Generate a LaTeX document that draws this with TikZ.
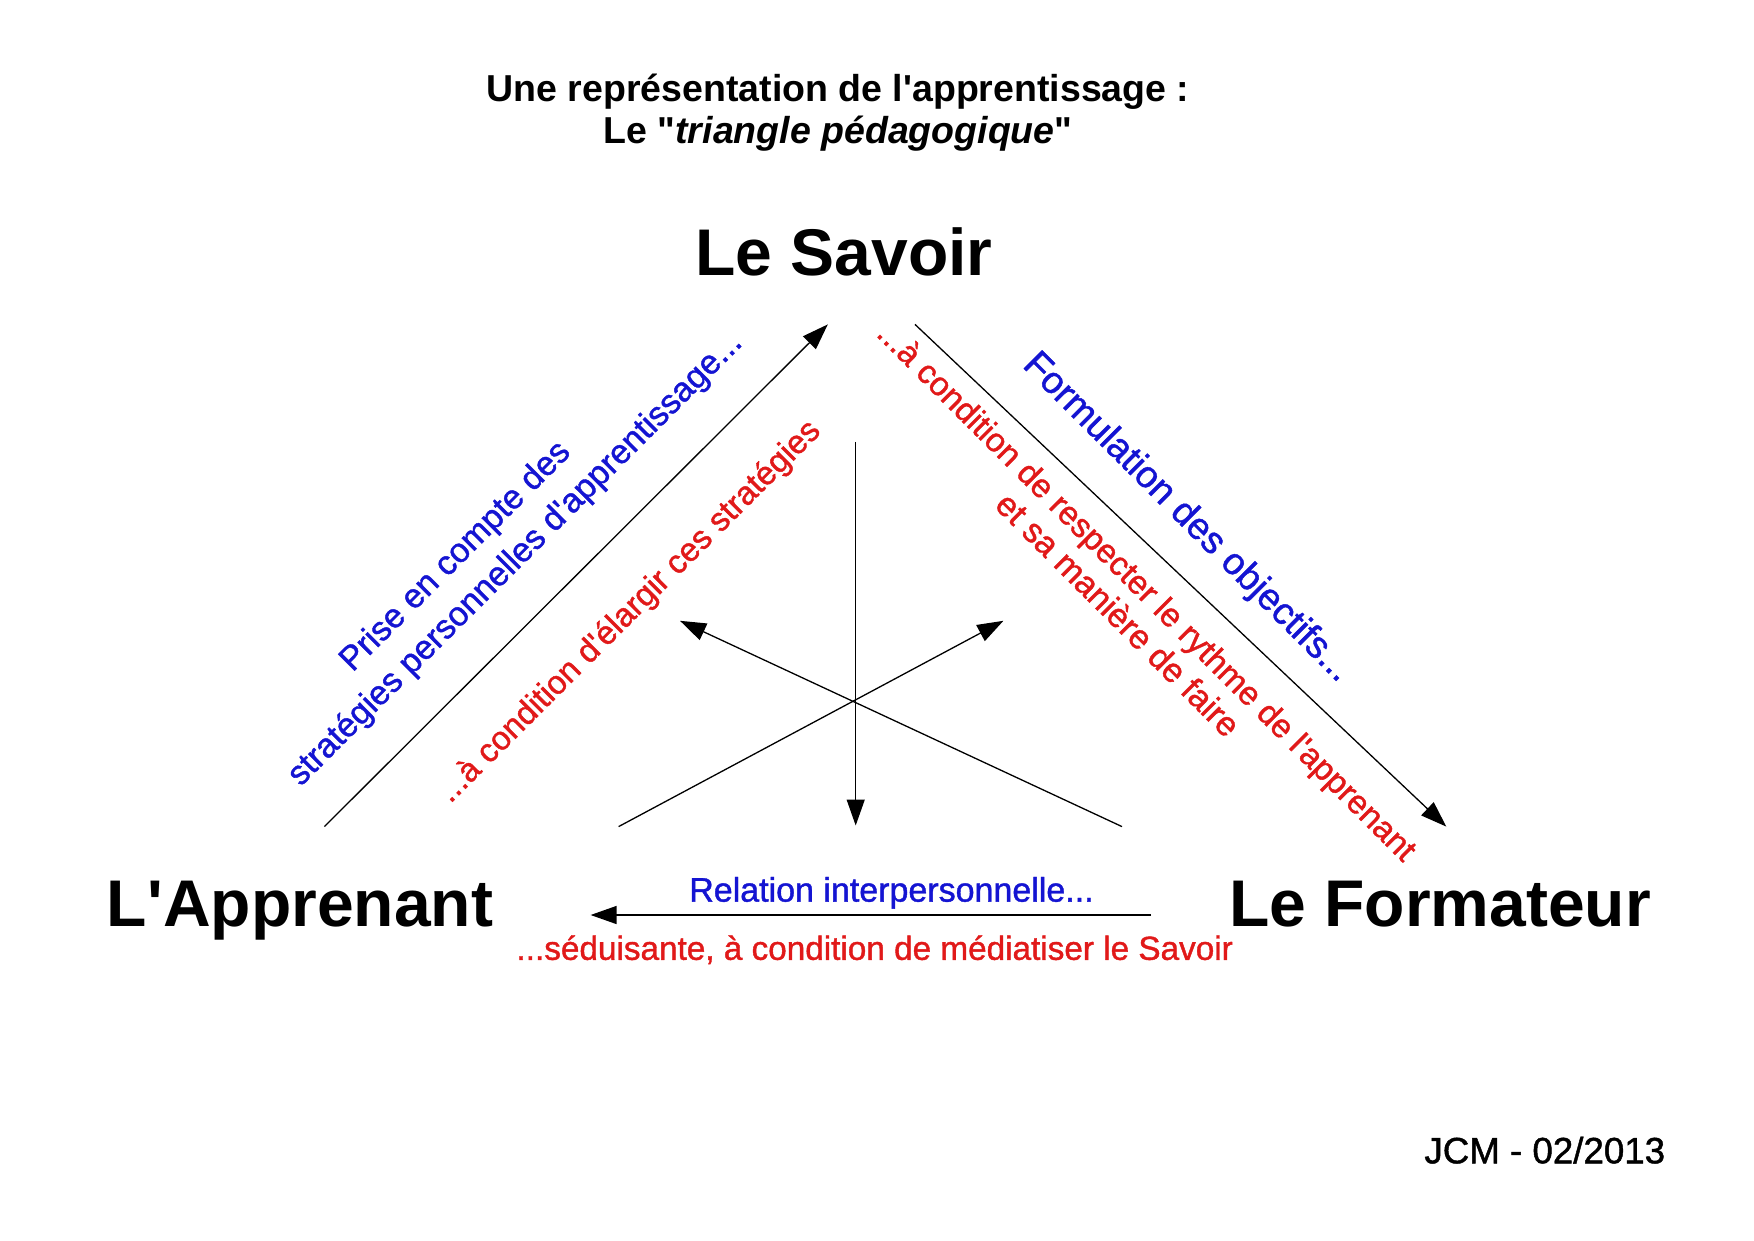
\documentclass[tikz,border=0pt]{standalone}
\usepackage{fontspec}
\newfontfamily\arialf{Liberation Sans}
\newfontfamily\arialm{Liberation Sans}[FakeBold=1.2]
\usetikzlibrary{arrows.meta}
\definecolor{bleu}{RGB}{20,20,210}
\definecolor{rouge}{RGB}{225,25,25}
\begin{document}
\begin{tikzpicture}[x=1pt,y=-1pt,
  vertex/.style={font=\arialf\bfseries\fontsize{66}{72}\selectfont, inner sep=0pt, anchor=base},
  titre/.style={font=\arialf\bfseries\fontsize{37.5}{42}\selectfont, inner sep=0pt, anchor=base},
  note/.style={font=\arialm\fontsize{34}{40}\selectfont, inner sep=0pt},
  bnote/.style={note, text=bleu},
  rnote/.style={note, text=rouge},
  arr/.style={line width=1.3pt, -{Triangle[length=26pt,width=18pt]}}]
\fill[white] (0,0) rectangle (1754,1240);
\useasboundingbox (0,0) rectangle (1754,1240);
% titles
\node[titre] (t1) at (838,101.8) {Une représentation de l'apprentissage :};
\node[titre] (t2) at (838,143.2) {Le "\textit{triangle pédagogique}"};
% vertices
\node[vertex] (savoir) at (844,275.2) {Le Savoir};
\node[vertex] (app) at (300,926.2) {L'Apprenant};
\node[vertex] (form) at (1440,926.2) {Le Formateur};
% arrow end points
\coordinate (l1) at (324.4,826.6);
\coordinate (l2) at (827.8,324.4);
\coordinate (r1) at (915,324.4);
\coordinate (r2) at (1446.3,826.6);
\coordinate (v1) at (855.7,441.8);
\coordinate (v2) at (855.7,825.5);
\coordinate (d1) at (618.6,826.6);
\coordinate (d2) at (1003.4,620.8);
\coordinate (e1) at (1122,826.6);
\coordinate (e2) at (680,620.8);
\coordinate (h1) at (1151,915);
\coordinate (h2) at (590.6,915);
\draw[arr] (l1) -- (l2);
\draw[arr] (r1) -- (r2);
\draw[arr] (v1) -- (v2);
\draw[arr] (d1) -- (d2);
\draw[arr] (e1) -- (e2);
\draw[arr] (h1) -- (h2);
% labels
\node[bnote, rotate=45] (lb1) at (456,557) {Prise en compte des};
\node[bnote, rotate=45] (lb2) at (515.7,559.3) {stratégies personnelles d'apprentissage...};
\node[rnote, rotate=45, font=\arialm\fontsize{33}{40}\selectfont] (lr) at (630,612) {...à condition d'élargir ces stratégies};
\node[bnote, rotate=-45, font=\arialm\fontsize{37.5}{42}\selectfont] (rb) at (1187,518) {Formulation des objectifs...};
\node[rnote, rotate=-45, font=\arialm\fontsize{33.2}{40}\selectfont] (rr1) at (1145.5,592.9) {...à condition de respecter le rythme de l'apprenant};
\node[rnote, rotate=-45] (rr2) at (1118.5,614.2) {et sa manière de faire};
\node[bnote, anchor=base] (hb) at (891.5,901.6) {Relation interpersonnelle...};
\node[rnote, anchor=base, font=\arialm\fontsize{33.3}{40}\selectfont] (hr) at (874.7,959.8) {...séduisante, à condition de médiatiser le Savoir};
\node[note, anchor=base, font=\arialm\fontsize{36.7}{40}\selectfont] (sig) at (1544.8,1163.3) {JCM - 02/2013};
\end{tikzpicture}
\end{document}
